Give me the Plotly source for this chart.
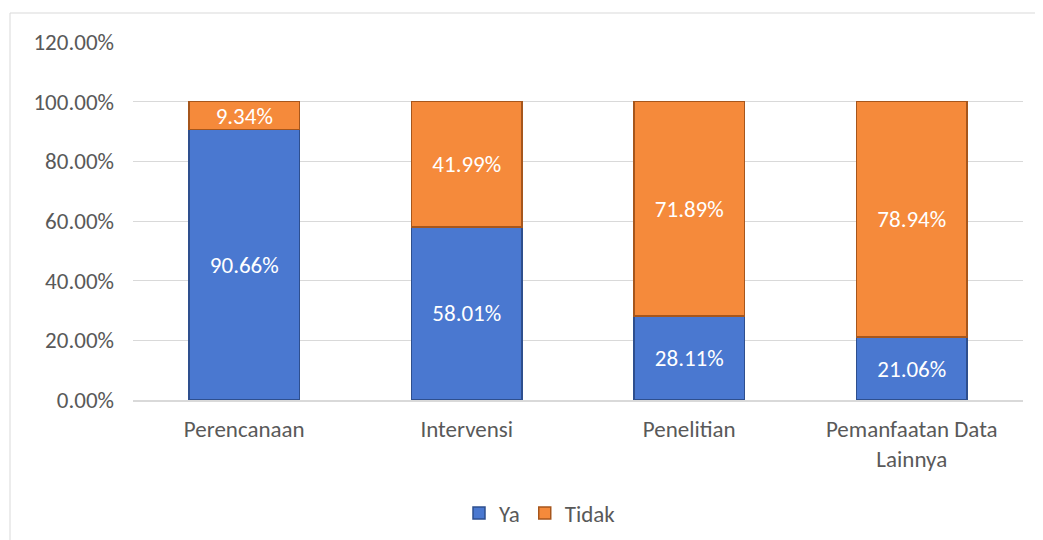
import plotly.graph_objects as go

categories = ["Perencanaan", "Intervensi", "Penelitian", "Pemanfaatan Data<br>Lainnya"]
ya = [90.66, 58.01, 28.11, 21.06]
tidak = [9.34, 41.99, 71.89, 78.94]
y_ticks = [0, 20, 40, 60, 80, 100, 120]

FONT = "Carlito, Lato, sans-serif"
FS = 23
# page has 8px body margin; figure coordinates are page coordinates minus 8
W, H = 1027, 532
L, R, T, B = 125, 12, 34, 140
pw, ph = W - L - R, H - T - B

fig = go.Figure()
fig.add_trace(go.Bar(
    name="Ya", x=categories, y=[v / 100 for v in ya],
    text=[f"{v:.2f}%" for v in ya], textposition="inside",
    insidetextanchor="middle", textangle=0,
    textfont=dict(color="white", size=FS, family=FONT),
    marker=dict(color="#4A78D0", line=dict(color="#2E4F8E", width=1.5)),
))
fig.add_trace(go.Bar(
    name="Tidak", x=categories, y=[v / 100 for v in tidak],
    text=[f"{v:.2f}%" for v in tidak], textposition="inside",
    insidetextanchor="middle", textangle=0,
    textfont=dict(color="white", size=FS, family=FONT),
    marker=dict(color="#F58A3B", line=dict(color="#A6561C", width=1.5)),
))

fig.update_layout(
    barmode="stack", bargap=0.505,
    width=W, height=H,
    margin=dict(l=L, r=R, t=T, b=B, autoexpand=False),
    paper_bgcolor="white", plot_bgcolor="white",
    font=dict(family=FONT, color="#595959", size=FS),
    uniformtext=dict(minsize=FS, mode="show"),
    legend=dict(orientation="h", x=(451 - L) / pw, xanchor="left", y=(392 - 505) / ph,
                yanchor="middle", font=dict(size=FS, color="#595959"),
                traceorder="normal", itemwidth=30),
    showlegend=True,
)
fig.update_yaxes(range=[0, 1.2], tickvals=[v / 100 for v in y_ticks],
                 ticktext=[f"{v:.2f}%" for v in y_ticks],
                 showgrid=True, gridcolor="#D9D9D9", gridwidth=1,
                 zeroline=False, showline=False, ticks="", ticklen=0,
                 ticklabelstandoff=18, automargin=False,
                 tickfont=dict(size=FS, color="#595959"))
fig.update_xaxes(showgrid=False, showline=True, linecolor="#D9D9D9", linewidth=1.5,
                 ticks="", ticklabelstandoff=8, automargin=False,
                 tickfont=dict(size=FS, color="#595959"))

# chart border (left and top edges visible)
x0 = (2 - L) / pw
xr = (1040 - L) / pw
y1 = (H - B - 5) / ph
for (a, b, c, d) in [(x0, x0, -0.5, y1), (x0, xr, y1, y1)]:
    fig.add_shape(type="line", xref="paper", yref="paper", x0=a, x1=b, y0=c, y1=d,
                  line=dict(color="#D9D9D9", width=1))

fig.write_html("out.html")
